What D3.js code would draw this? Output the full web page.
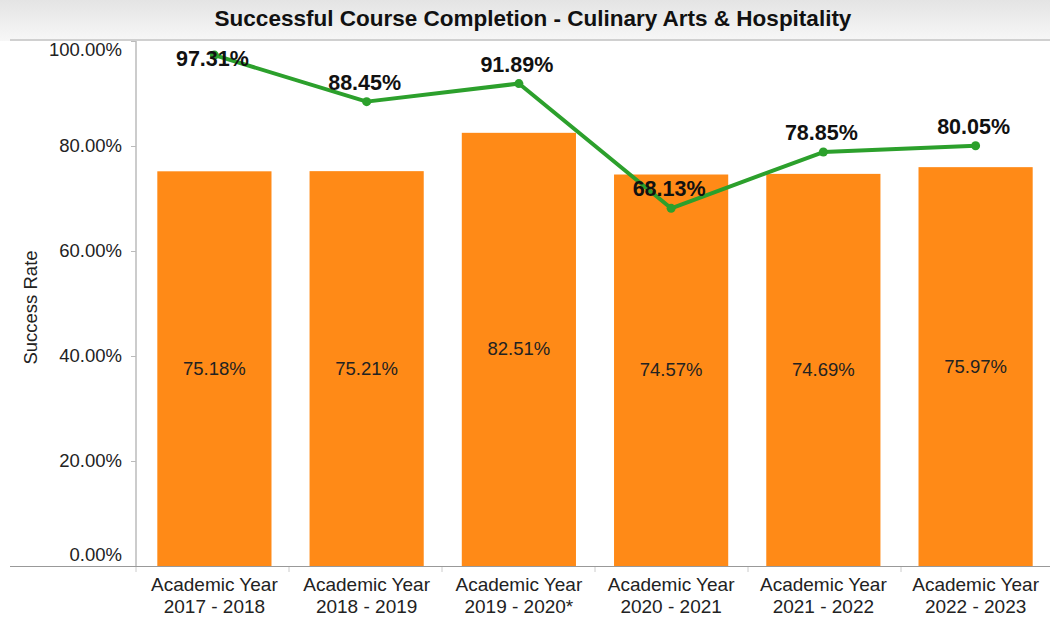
<!DOCTYPE html>
<meta charset="utf-8">
<style>
body { margin: 0; background: #fff; }
text { font-family: "Liberation Sans", Arial, sans-serif; }
</style>
<body>
<script src="https://d3js.org/d3.v7.min.js"></script>
<script>
var years = ["2017 - 2018", "2018 - 2019", "2019 - 2020*", "2020 - 2021", "2021 - 2022", "2022 - 2023"];
var barValues = [75.18, 75.21, 82.51, 74.57, 74.69, 75.97];
var lineValues = [97.31, 88.45, 91.89, 68.13, 78.85, 80.05];
var yTicks = [0, 20, 40, 60, 80, 100];

var width = 1050, height = 622;
var plotLeft = 136, plotRight = 1054, plotTop = 41, plotBottom = 566;

var svg = d3.select("body").append("svg").attr("width", width).attr("height", height);

// title band
var grad = svg.append("defs").append("linearGradient").attr("id", "tg").attr("x1", 0).attr("y1", 0).attr("x2", 0).attr("y2", 1);
grad.append("stop").attr("offset", "0%").attr("stop-color", "#e4e4e4");
grad.append("stop").attr("offset", "100%").attr("stop-color", "#f7f7f7");
svg.append("rect").attr("x", 0).attr("y", 0).attr("width", width).attr("height", plotTop).attr("fill", "url(#tg)");
svg.append("line").attr("x1", 10).attr("x2", width).attr("y1", plotTop - 1).attr("y2", plotTop - 1).attr("stroke", "#aaa");
svg.append("text").attr("x", 533).attr("y", 26).attr("text-anchor", "middle")
  .style("font-size", "22.5px").style("font-weight", "bold").attr("fill", "#111")
  .text("Successful Course Completion - Culinary Arts & Hospitality");

var x = d3.scaleBand().domain(years).range([plotLeft, plotRight]).paddingInner(0.25).paddingOuter(0.14);
var xc = d3.scaleBand().domain(years).range([plotLeft, plotRight]);
var y = d3.scaleLinear().domain([0, 100]).range([plotBottom, plotTop]);

// y axis
var yAxis = svg.append("g").attr("transform", "translate(" + plotLeft + ",0)")
  .call(d3.axisLeft(y).tickValues(yTicks).tickSize(5).tickFormat(function(d) { return d.toFixed(2) + "%"; }));
yAxis.select(".domain").attr("stroke", "#999").attr("d", "M0," + plotTop + "V" + plotBottom);
yAxis.selectAll(".tick line").attr("stroke", "#bbb");
yAxis.selectAll(".tick text").attr("x", -14).style("font-size", "18.5px").attr("fill", "#222")
  .attr("dy", function(d) { return d == 0 ? "-0.28em" : d == 100 ? "0.8em" : "0.32em"; });

svg.append("text").attr("transform", "translate(37," + ((plotTop + plotBottom) / 2 + 4) + ") rotate(-90)")
  .attr("text-anchor", "middle").style("font-size", "18.5px").attr("fill", "#222").text("Success Rate");

// bars
svg.selectAll(".bar").data(years).enter().append("rect")
  .attr("x", function(d) { return x(d); })
  .attr("width", x.bandwidth())
  .attr("y", function(d, i) { return y(barValues[i]); })
  .attr("height", function(d, i) { return plotBottom - y(barValues[i]); })
  .attr("fill", "#ff8a17");

svg.selectAll(".barlab").data(years).enter().append("text")
  .attr("x", function(d) { return x(d) + x.bandwidth() / 2; })
  .attr("y", function(d, i) { return (y(barValues[i]) + plotBottom) / 2 + 6; })
  .attr("text-anchor", "middle").style("font-size", "18.5px").attr("fill", "#222")
  .text(function(d, i) { return barValues[i].toFixed(2) + "%"; });

// x axis
svg.append("line").attr("x1", 10).attr("x2", width).attr("y1", plotBottom + 0.5).attr("y2", plotBottom + 0.5).attr("stroke", "#999");
svg.selectAll(".xt").data(years).enter().append("line")
  .attr("x1", function(d) { return xc(d); }).attr("x2", function(d) { return xc(d); })
  .attr("y1", plotBottom + 1).attr("y2", plotBottom + 6).attr("stroke", "#ccc");
var xl = svg.selectAll(".xl").data(years).enter().append("text")
  .attr("text-anchor", "middle").style("font-size", "19px").attr("fill", "#222");
xl.append("tspan").attr("x", function(d) { return x(d) + x.bandwidth() / 2; }).attr("y", 591).text("Academic Year");
xl.append("tspan").attr("x", function(d) { return x(d) + x.bandwidth() / 2; }).attr("y", 613).text(function(d) { return d; });

// line
var cx = function(d, i) { return x(years[i]) + x.bandwidth() / 2; };
var line = d3.line().x(function(d, i) { return cx(d, i); }).y(function(d) { return y(d); });
svg.append("path").datum(lineValues).attr("d", line).attr("fill", "none")
  .attr("stroke", "#2ca02c").attr("stroke-width", 4).attr("stroke-linejoin", "round");
svg.selectAll(".dot").data(lineValues).enter().append("circle")
  .attr("cx", cx).attr("cy", function(d) { return y(d); }).attr("r", 4.5).attr("fill", "#2ca02c");
svg.selectAll(".linelab").data(lineValues).enter().append("text")
  .attr("x", function(d, i) { return cx(d, i) - 2; }).attr("y", function(d) { return Math.max(y(d) - 12, 66); })
  .attr("text-anchor", "middle").style("font-size", "21.5px").style("font-weight", "bold").attr("fill", "#111")
  .text(function(d) { return d.toFixed(2) + "%"; });
</script>
